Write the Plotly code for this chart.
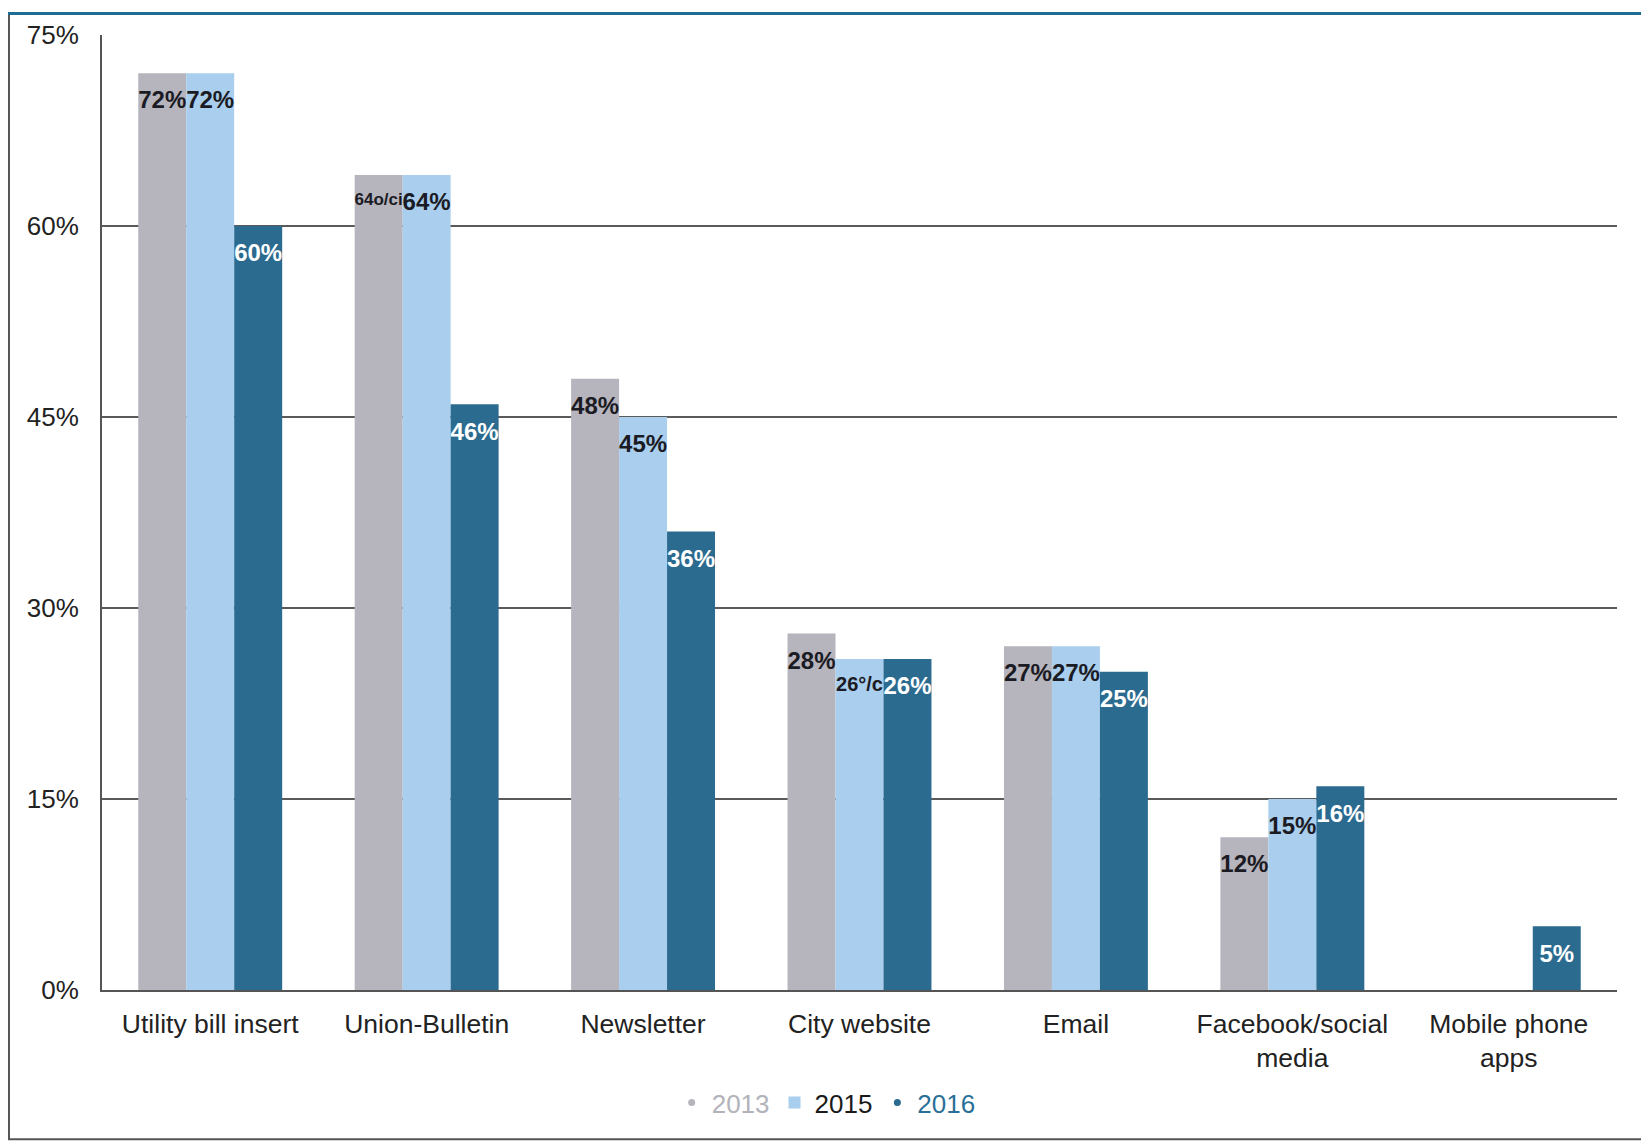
import plotly.graph_objects as go

categories = ["Utility bill insert", "Union-Bulletin", "Newsletter", "City website",
              "Email", "Facebook/social<br>media", "Mobile phone<br>apps"]
years = ["2013", "2015", "2016"]
v2013 = [72, 64, 48, 28, 27, 12, None]
v2015 = [72, 64, 45, 26, 27, 15, None]
v2016 = [60, 46, 36, 26, 25, 16, 5]
labels2013 = ["72%", "64o/ci", "48%", "28%", "27%", "12%", ""]
labels2015 = ["72%", "64%", "45%", "26°/c", "27%", "15%", ""]
labels2016 = ["60%", "46%", "36%", "26%", "25%", "16%", "5%"]
y_ticks = [0, 15, 30, 45, 60, 75]
y_tick_text = ["0%", "15%", "30%", "45%", "60%", "75%"]

bar_colors = ["#b6b4bd", "#a9ceee", "#2c6b90"]
label_colors = ["#1b1b24", "#1b1b24", "#ffffff"]
legend_text_colors = ["#b2b2ba", "#1a1a1a", "#2a6f97"]
legend_symbols = ["circle", "square", "circle"]
legend_sizes = [7, 12, 7]

series = [v2013, v2015, v2016]
labels = [labels2013, labels2015, labels2016]


def label_size(t):
    if len(t) > 5:
        return 17
    if len(t) > 4:
        return 20
    return 24


GAP = 0.335
fig = go.Figure()

for i, yr in enumerate(years):
    fig.add_trace(go.Bar(
        x=categories, y=series[i], name=yr, offsetgroup=yr, alignmentgroup="g",
        marker=dict(color=bar_colors[i], line=dict(width=0)),
        showlegend=False, hoverinfo="skip"))

for i, yr in enumerate(years):
    sizes = [label_size(t) for t in labels[i]]
    fig.add_trace(go.Scatter(
        x=categories, y=series[i], mode="markers+text", text=labels[i],
        textposition="bottom center", offsetgroup=yr, alignmentgroup="g",
        marker=dict(size=26, color="rgba(0,0,0,0)"),
        textfont=dict(family="Liberation Sans, Arial, sans-serif", size=sizes,
                      color=label_colors[i], weight="bold"),
        showlegend=False, hoverinfo="skip", cliponaxis=False))

for i, yr in enumerate(years):
    fig.add_trace(go.Scatter(
        x=[None], y=[None], mode="markers", offsetgroup=yr, alignmentgroup="g",
        name=f"<span style='color:{legend_text_colors[i]}'>{yr}</span>",
        marker=dict(symbol=legend_symbols[i], size=legend_sizes[i], color=bar_colors[i]),
        showlegend=True, hoverinfo="skip"))

fig.update_layout(
    width=1641, height=1134,
    margin=dict(l=94, r=32, t=23, b=152),
    paper_bgcolor="white", plot_bgcolor="white",
    barmode="group", bargap=GAP, bargroupgap=0,
    scattermode="group", scattergap=GAP,
    font=dict(family="Liberation Sans, Arial, sans-serif", color="#222222"),
    showlegend=True,
    legend=dict(orientation="h", x=0.478, xanchor="center", y=-0.118, yanchor="middle",
                font=dict(size=26), itemwidth=30, tracegroupgap=0,
                bgcolor="rgba(0,0,0,0)"),
    xaxis=dict(showgrid=False, showline=True, linecolor="#555555", linewidth=2,
               ticks="", tickfont=dict(size=26.5, color="#222222"),
               ticklabelstandoff=9, fixedrange=True),
    yaxis=dict(range=[0, 75], tickmode="array", tickvals=y_ticks, ticktext=y_tick_text,
               showgrid=True, gridcolor="#5a5a5a", gridwidth=1.5,
               zeroline=False, showline=True, linecolor="#555555", linewidth=2,
               ticks="", tickfont=dict(size=26, color="#222222"),
               ticklabelstandoff=16, fixedrange=True),
    shapes=[
        dict(type="rect", xref="paper", yref="paper", x0=-0.0614, x1=1.0178,
             y0=-0.1564, y1=1.022, line=dict(color="#555555", width=2),
             fillcolor="rgba(0,0,0,0)", layer="below"),
        dict(type="rect", xref="paper", yref="paper", x0=-0.0625, x1=1.022,
             y0=1.021, y1=1.024, line=dict(width=0), fillcolor="#1f6d94",
             layer="below"),
    ],
)

fig.write_html("out.html")
